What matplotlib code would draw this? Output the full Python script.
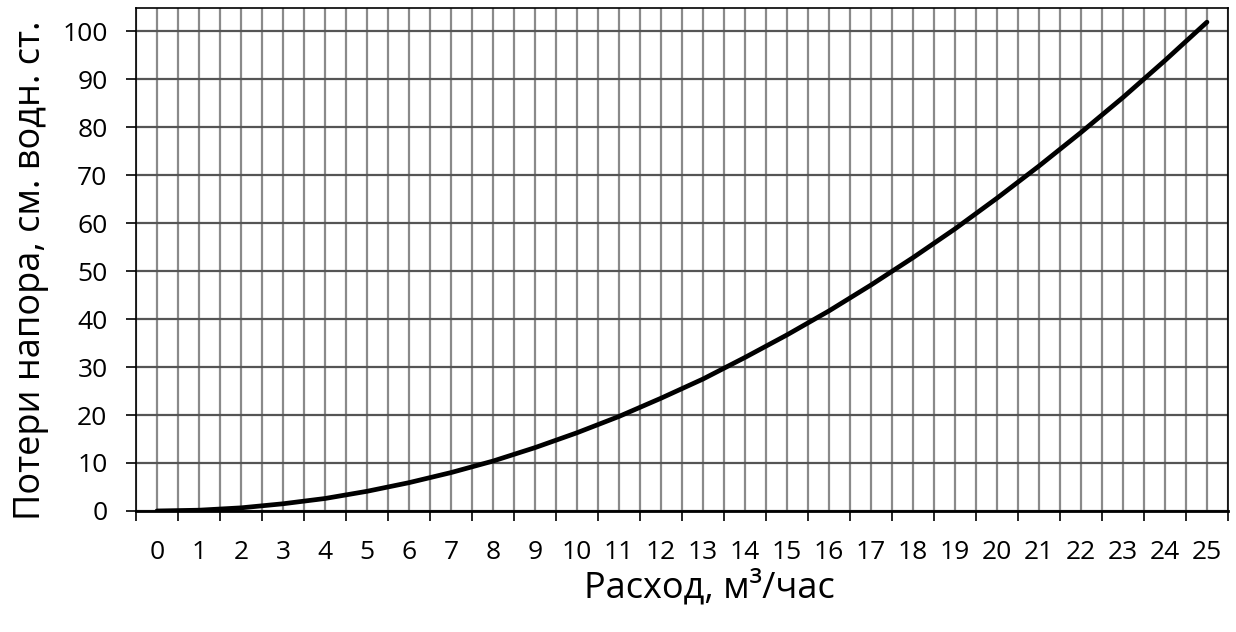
import numpy as np
import matplotlib
matplotlib.use("Agg")
import matplotlib.pyplot as plt

# расход, м3/час и потери напора, см вод. ст.
rashod = list(range(0, 26))
poteri = [0.0, 0.16, 0.65, 1.5, 2.6, 4.1, 5.9, 8.0, 10.4, 13.2, 16.3, 19.7, 23.5,
          27.5, 32.0, 36.7, 41.7, 47.1, 52.8, 58.8, 65.2, 71.9, 78.9, 86.2, 93.9, 101.9]
y_ticks = list(range(0, 101, 10))

plt.rcParams['font.family'] = ['Open Sans', 'DejaVu Sans']

fig = plt.figure(figsize=(12.36, 6.32), dpi=100)
ax = fig.add_axes([0.110, 0.1915, 0.8835, 0.7955])

ax.plot(rashod, poteri, color='black', lw=3.4, solid_capstyle='round', zorder=3)

ax.set_xlim(-0.5, 25.5)
ax.set_ylim(0, 104.8)

# подписи по центрам категорий, засечки по границам
ax.set_xticks(rashod)
ax.set_xticks(np.arange(-0.5, 26, 1), minor=True)
ax.tick_params(axis='x', which='major', length=0, pad=21, labelsize=19)
ax.tick_params(axis='x', which='minor', length=7.5, width=1.2, direction='out')
ax.set_yticks(y_ticks)
ax.tick_params(axis='y', length=7.5, width=1.2, pad=13, labelsize=19)

ax.grid(axis='x', which='both', color='#8a8a8a', lw=1.6)
ax.grid(axis='y', which='major', color='#555555', lw=1.6)
ax.set_axisbelow(True)

for s in ax.spines.values():
    s.set_color('black')
    s.set_linewidth(1.2)
ax.spines['bottom'].set_linewidth(2.0)

ax.set_xlabel('Расход, м³/час', fontsize=26)
ax.set_ylabel('Потери напора, см. водн. ст.', fontsize=26)
ax.xaxis.set_label_coords(0.525, -0.117)
ax.yaxis.set_label_coords(-0.08, 0.479)

fig.savefig('out.png', dpi=100)
